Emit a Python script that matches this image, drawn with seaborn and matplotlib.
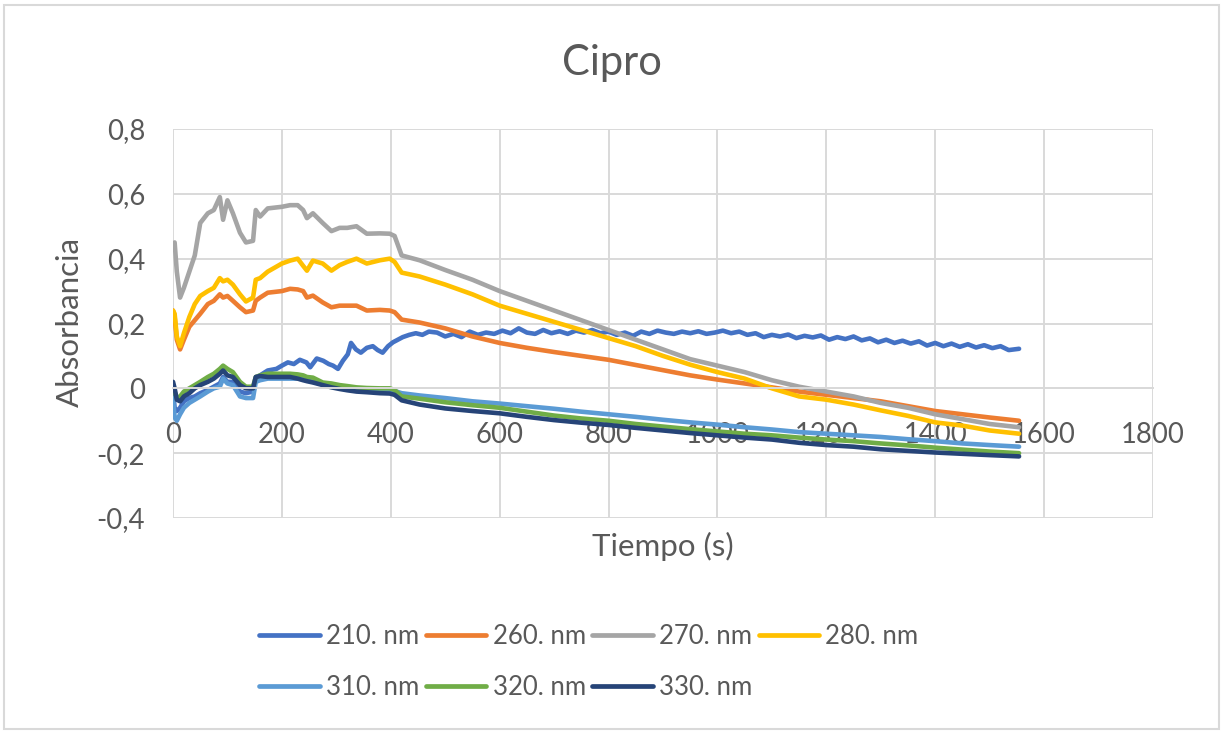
import numpy as np
import pandas as pd
import matplotlib
matplotlib.use("Agg")
import matplotlib.pyplot as plt
from matplotlib.lines import Line2D
from matplotlib.patches import Rectangle
import seaborn as sns

# ---------------- data ----------------
t_main = [0, 3, 7, 13, 20, 30, 40, 50, 64, 75, 86, 92, 100, 110, 123, 134, 147, 152,
          160, 174, 200, 215, 229, 239, 246, 257, 275, 291, 306, 320, 337, 356, 380,
          398, 407, 420, 453, 500, 550, 600, 650, 700, 750, 800, 850, 900, 950, 1000,
          1050, 1100, 1150, 1200, 1250, 1300, 1350, 1400, 1450, 1500, 1554]

a260 = [0.24, 0.22, 0.15, 0.12, 0.15, 0.19, 0.21, 0.23, 0.26, 0.27, 0.29, 0.28, 0.285,
        0.27, 0.25, 0.235, 0.24, 0.27, 0.28, 0.295, 0.30, 0.307, 0.305, 0.30, 0.28,
        0.286, 0.265, 0.25, 0.255, 0.255, 0.255, 0.24, 0.242, 0.24, 0.235, 0.212,
        0.203, 0.185, 0.16, 0.14, 0.125, 0.112, 0.10, 0.088, 0.072, 0.056, 0.04,
        0.027, 0.015, 0.003, -0.01, -0.02, -0.03, -0.04, -0.055, -0.07, -0.08,
        -0.09, -0.10]

a270 = [0.44, 0.45, 0.36, 0.28, 0.31, 0.36, 0.41, 0.51, 0.54, 0.55, 0.59, 0.52, 0.58,
        0.54, 0.48, 0.45, 0.455, 0.55, 0.53, 0.555, 0.56, 0.565, 0.565, 0.55, 0.525,
        0.54, 0.51, 0.485, 0.495, 0.495, 0.50, 0.477, 0.478, 0.477, 0.47, 0.41,
        0.395, 0.365, 0.335, 0.30, 0.27, 0.24, 0.21, 0.18, 0.15, 0.12, 0.09, 0.07,
        0.05, 0.025, 0.005, -0.01, -0.025, -0.045, -0.06, -0.08, -0.095, -0.11,
        -0.12]

a280 = [0.24, 0.23, 0.16, 0.13, 0.17, 0.22, 0.26, 0.285, 0.30, 0.31, 0.34, 0.33, 0.335,
        0.32, 0.29, 0.268, 0.28, 0.335, 0.34, 0.36, 0.385, 0.394, 0.40, 0.378, 0.363,
        0.394, 0.385, 0.363, 0.38, 0.39, 0.40, 0.385, 0.395, 0.40, 0.39, 0.357,
        0.345, 0.32, 0.29, 0.255, 0.23, 0.205, 0.18, 0.155, 0.13, 0.10, 0.073,
        0.05, 0.03, 0.0, -0.025, -0.035, -0.05, -0.068, -0.085, -0.105, -0.115,
        -0.13, -0.14]

a310 = [-0.03, -0.09, -0.10, -0.08, -0.06, -0.045, -0.035, -0.025, -0.01, 0.0, 0.005,
        0.03, 0.015, 0.01, -0.025, -0.03, -0.03, 0.02, 0.025, 0.03, 0.03, 0.03, 0.03,
        0.028, 0.025, 0.02, 0.012, 0.01, 0.005, 0.003, 0.0, -0.002, -0.004, -0.005,
        -0.008, -0.015, -0.022, -0.03, -0.04, -0.047, -0.055, -0.063, -0.072, -0.08,
        -0.088, -0.097, -0.105, -0.112, -0.12, -0.127, -0.135, -0.14, -0.145, -0.15,
        -0.157, -0.163, -0.17, -0.175, -0.18]

a320 = [0.01, -0.01, -0.03, -0.025, -0.01, 0.0, 0.01, 0.02, 0.035, 0.045, 0.06, 0.07,
        0.06, 0.05, 0.02, 0.005, 0.005, 0.035, 0.04, 0.045, 0.045, 0.045, 0.043, 0.04,
        0.035, 0.033, 0.018, 0.015, 0.01, 0.007, 0.003, 0.001, 0.0, 0.0, -0.005,
        -0.025, -0.032, -0.043, -0.052, -0.06, -0.072, -0.084, -0.093, -0.10, -0.11,
        -0.118, -0.126, -0.133, -0.14, -0.145, -0.152, -0.158, -0.163, -0.17,
        -0.176, -0.183, -0.189, -0.195, -0.20]

a330 = [0.02, 0.0, -0.035, -0.04, -0.025, -0.015, 0.0, 0.01, 0.02, 0.03, 0.045, 0.055,
        0.04, 0.035, 0.01, 0.0, 0.0, 0.035, 0.038, 0.035, 0.035, 0.035, 0.03, 0.025,
        0.022, 0.018, 0.01, 0.003, -0.002, -0.006, -0.01, -0.012, -0.015, -0.016,
        -0.02, -0.037, -0.05, -0.062, -0.07, -0.077, -0.088, -0.098, -0.106, -0.113,
        -0.122, -0.13, -0.138, -0.145, -0.152, -0.158, -0.168, -0.175, -0.18,
        -0.188, -0.193, -0.198, -0.202, -0.206, -0.21]

t_210 = [0, 3, 7, 13, 20, 30, 40, 50, 64, 75, 86, 92, 100, 110, 123, 134, 147, 152, 160,
         174, 190, 200, 211, 222, 233, 245, 252, 264, 276, 286, 294, 303, 312, 321, 327,
         336, 345, 356, 367, 376, 385, 395, 404, 413, 422, 434, 446, 458, 470,
         485, 500, 515, 530, 545, 560, 575, 590, 605, 620, 635, 650, 665, 680, 695,
         710, 725, 740, 755, 770, 785, 800, 815, 830, 845, 860, 875, 890, 905, 920,
         935, 950, 965, 980, 995, 1010, 1025, 1040, 1055, 1070, 1085, 1100, 1115,
         1130, 1145, 1160, 1175, 1190, 1205, 1220, 1235, 1250, 1265, 1280, 1295,
         1310, 1325, 1340, 1355, 1370, 1385, 1400, 1415, 1430, 1445, 1460, 1475,
         1490, 1505, 1520, 1535, 1554]

a210 = [-0.01, -0.06, -0.07, -0.06, -0.04, -0.03, -0.025, -0.015, -0.005, 0.005, 0.015,
        0.035, 0.02, 0.02, -0.01, -0.015, -0.01, 0.03, 0.04, 0.055, 0.06, 0.07, 0.08,
        0.075, 0.088, 0.08, 0.065, 0.092, 0.085, 0.075, 0.07, 0.06, 0.085, 0.105, 0.14,
        0.12, 0.11, 0.125, 0.13, 0.118, 0.11, 0.13, 0.142, 0.15, 0.158, 0.165, 0.17,
        0.165, 0.175,
        0.172, 0.16, 0.168, 0.158, 0.175, 0.165, 0.172, 0.168, 0.178, 0.17, 0.185,
        0.172, 0.168, 0.18, 0.17, 0.176, 0.168, 0.178, 0.172, 0.18, 0.17, 0.175,
        0.165, 0.172, 0.162, 0.175, 0.168, 0.178, 0.172, 0.168, 0.175, 0.17, 0.176,
        0.168, 0.172, 0.178, 0.17, 0.175, 0.165, 0.17, 0.158, 0.165, 0.16, 0.166,
        0.155, 0.162, 0.157, 0.163, 0.15, 0.158, 0.152, 0.16, 0.148, 0.154, 0.142,
        0.15, 0.14, 0.147, 0.138, 0.145, 0.132, 0.14, 0.13, 0.138, 0.128, 0.136,
        0.126, 0.133, 0.124, 0.13, 0.118, 0.122]

series_names = ["210. nm", "260. nm", "270. nm", "280. nm", "310. nm", "320. nm", "330. nm"]
series_colors = ["#4472C4", "#ED7D31", "#A5A5A5", "#FFC000", "#5B9BD5", "#70AD47", "#264478"]

x_ticks = [0, 200, 400, 600, 800, 1000, 1200, 1400, 1600, 1800]
y_ticks = [-0.4, -0.2, 0.0, 0.2, 0.4, 0.6, 0.8]
y_tick_labels = ["-0,4", "-0,2", "0", "0,2", "0,4", "0,6", "0,8"]

title = "Cipro"
x_title = "Tiempo (s)"
y_title = "Absorbancia"

# ---------------- build long table ----------------
frames = []
pairs = [(t_210, a210), (t_main, a260), (t_main, a270), (t_main, a280),
         (t_main, a310), (t_main, a320), (t_main, a330)]
for name, (tt, aa) in zip(series_names, pairs):
    frames.append(pd.DataFrame({"t": tt, "A": aa, "serie": name}))
df = pd.concat(frames, ignore_index=True)

# ---------------- style ----------------
sns.set_theme(style="whitegrid")
plt.rcParams["font.family"] = ["Lato", "DejaVu Sans"]
txt = "#595959"
grid_c = "#D9D9D9"

W, H = 1223, 734
fig = plt.figure(figsize=(W / 100, H / 100), dpi=100)
ax = fig.add_axes([173 / W, 1 - 518 / H, (1153 - 173) / W, (518 - 129) / H])

sns.lineplot(data=df, x="t", y="A", hue="serie", hue_order=series_names,
             palette=dict(zip(series_names, series_colors)), estimator=None,
             sort=False, linewidth=3.3, legend=False, ax=ax)

ax.set_xlim(x_ticks[0], x_ticks[-1])
ax.set_ylim(y_ticks[0], y_ticks[-1])
ax.set_xticks(x_ticks)
ax.set_xticklabels([str(v) for v in x_ticks])
ax.set_yticks(y_ticks)
ax.set_yticklabels(y_tick_labels)
ax.grid(True, color=grid_c, linewidth=1.4)
ax.set_axisbelow(True)
for s in ["top", "right", "left"]:
    ax.spines[s].set_visible(False)
ax.spines["bottom"].set_position(("data", 0))
ax.spines["bottom"].set_color(grid_c)
ax.spines["bottom"].set_linewidth(1.4)
ax.tick_params(axis="both", length=0, labelsize=19.8, colors=txt)
ax.tick_params(axis="x", pad=24)
ax.tick_params(axis="y", pad=20)
ax.set_xlabel("")
ax.set_ylabel("")

fig.text(612 / W, 1 - 63 / H, title, ha="center", va="center", fontsize=30, color=txt)
fig.text(663 / W, 1 - 546 / H, x_title, ha="center", va="center", fontsize=22.5, color=txt)
fig.text(70 / W, 1 - 322 / H, y_title, ha="center", va="center", rotation=90,
         fontsize=22.5, color=txt)

# legend, row-major order in 4 columns
order = [0, 4, 1, 5, 2, 6, 3]
handles = [Line2D([0], [0], color=series_colors[i], lw=3.4, solid_capstyle="round")
           for i in order]
labels = [series_names[i] for i in order]
fig.legend(handles, labels, ncol=4, loc="center", bbox_to_anchor=(589 / W, 1 - 662 / H),
           frameon=False, fontsize=18.5, labelcolor=txt, handlelength=2.35,
           handletextpad=0.25, columnspacing=0.25, labelspacing=1.05)

fig.patches.append(Rectangle((4 / W, 5 / H), (1219 - 4) / W, (729 - 5) / H,
                             transform=fig.transFigure, fill=False,
                             edgecolor=grid_c, linewidth=1.5))

fig.savefig("out.png", dpi=100)
